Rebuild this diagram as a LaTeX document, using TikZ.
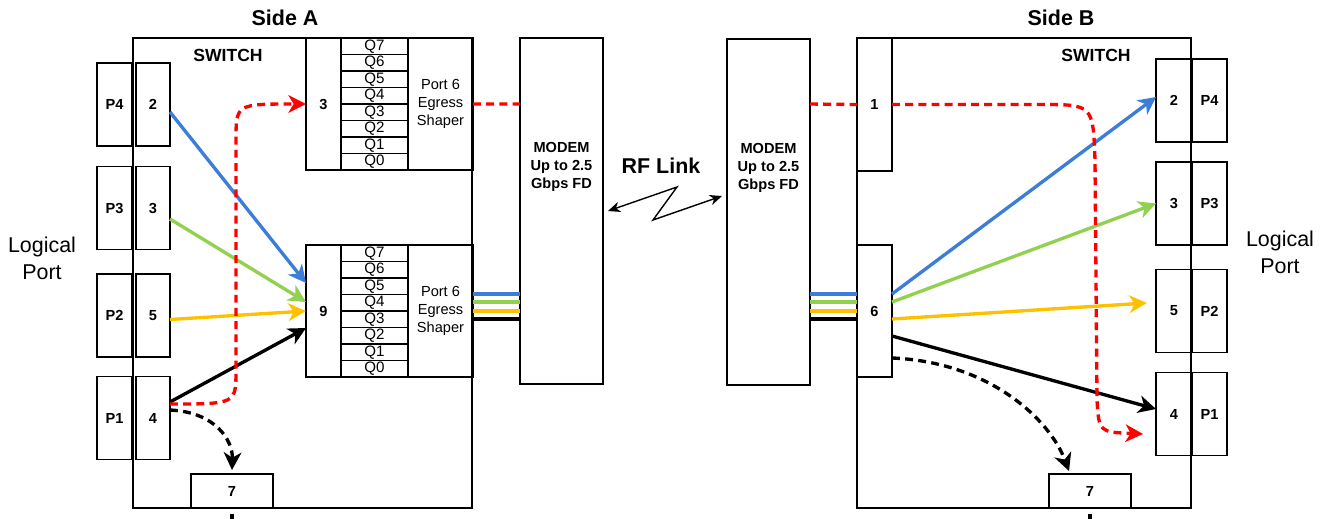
\documentclass[tikz,border=0pt]{standalone}
\usepackage{fontspec}
\setmainfont{Liberation Sans}
\usetikzlibrary{arrows.meta}
\definecolor{link-blue}{HTML}{3B7DD8}
\definecolor{link-green}{HTML}{92D050}
\definecolor{link-gold}{HTML}{FFC000}
\definecolor{link-red}{HTML}{FF0000}

\tikzset{
  box/.style={draw, line width=0.65pt, inner sep=0pt, outer sep=0pt,
              font=\fontsize{8.3}{10.2}\selectfont\bfseries},
  qrow/.style={box, font=\fontsize{8.6}{10.2}\selectfont,
               minimum width=1.34cm, minimum height=0.33cm},
  shaper/.style={box, align=center, font=\fontsize{8.3}{10.2}\selectfont},
  modemtxt/.style={align=center, font=\fontsize{8.3}{10.2}\selectfont\bfseries},
  swlabel/.style={font=\fontsize{10}{12}\selectfont\bfseries},
  title/.style={font=\fontsize{12.2}{14}\selectfont\bfseries},
  logical/.style={align=center, font=\fontsize{12.2}{15.3}\selectfont},
  flow/.style={line width=1.9pt, -{Stealth[length=10pt,width=10pt,inset=3pt]}},
  trunk/.style={line width=1.9pt},
  redflow/.style={flow, link-red, dash pattern=on 4.5pt off 3pt},
  dropflow/.style={flow, black, dash pattern=on 4.5pt off 3pt},
  rflink/.style={line width=0.8pt,
    {Stealth[length=7pt,width=6pt]}-{Stealth[length=7pt,width=6pt]}}
}

\begin{document}
\begin{tikzpicture}[x=0.02cm, y=-0.02cm]
  \clip (0,0) rectangle (1323,518);

  % switch enclosures and titles
  \node[box, minimum width=6.78cm, minimum height=9.4cm] (swA) at (302.5,273) {};
  \node[box, minimum width=6.68cm, minimum height=9.4cm] (swB) at (1024,273) {};
  \node[swlabel] (swAlbl) at (228,55) {SWITCH};
  \node[swlabel] (swBlbl) at (1096,55) {SWITCH};
  \node[title] (sideA) at (285,18) {Side A};
  \node[title] (sideB) at (1061,18) {Side B};
  \node[logical] (logA) at (42,258) {Logical\\Port};
  \node[logical] (logB) at (1280,252) {Logical\\Port};

  % logical ports, side A
  \foreach \p/\n/\y in {4/2/104.5, 3/3/208, 2/5/315.5, 1/4/418} {
    \node[box, minimum width=0.7cm, minimum height=1.66cm] (pA\p) at (114.5,\y) {P\p};
    \node[box, minimum width=0.68cm, minimum height=1.66cm] (nA\n) at (153,\y) {\n};
  }

  % logical ports, side B
  \foreach \p/\n/\y in {4/2/100.5, 3/3/203.5, 2/5/311, 1/4/414} {
    \node[box, minimum width=0.72cm, minimum height=1.66cm] (nB\n) at (1174,\y) {\n};
    \node[box, minimum width=0.7cm, minimum height=1.66cm] (pB\p) at (1209.5,\y) {P\p};
  }

  % queue blocks with egress shaper
  \foreach \b/\yc/\num in {A/104/3, B/311/9} {
    \node[box, minimum width=0.7cm, minimum height=2.64cm] (qn\b) at (323.5,\yc) {\num};
    \foreach \i in {0,...,7}
      \node[qrow] (q\b\i) at (374.5,{\yc-66+(7.5-\i)*16.5}) {Q\i};
    \node[shaper, minimum width=1.3cm, minimum height=2.64cm] (sh\b) at (440.5,\yc)
      {Port 6\\Egress\\Shaper};
  }

  % modems
  \node[box, minimum width=1.66cm, minimum height=6.92cm] (mA) at (561.5,211) {};
  \node[box, minimum width=1.66cm, minimum height=6.92cm] (mB) at (768.5,212) {};
  \node[modemtxt] (mAtxt) at (561.5,167) {MODEM\\Up to 2.5\\Gbps FD};
  \node[modemtxt] (mBtxt) at (768.5,168) {MODEM\\Up to 2.5\\Gbps FD};
  \node[title] (rf) at (661,166) {RF Link};

  % switch B uplink ports and port 7 boxes
  \node[box, minimum width=0.7cm, minimum height=2.66cm] (up1) at (874.5,104.5) {1};
  \node[box, minimum width=0.7cm, minimum height=2.64cm] (up6) at (874.5,311) {6};
  \node[box, minimum width=1.64cm, minimum height=0.68cm] (svA) at (232,491) {7};
  \node[box, minimum width=1.64cm, minimum height=0.68cm] (svB) at (1090,491) {7};

  % radio link
  \draw[rflink] ([xshift=0.1cm]mA.east) -- (677,187) -- (653,220)
    -- ([xshift=-0.1cm,yshift=0.32cm]mB.west);

  % trunks between shaper, modems and port 6
  \foreach \c/\s in {link-blue/0.34, link-green/0.18, link-gold/0, black/-0.16} {
    \draw[trunk, \c] ([yshift=\s cm]shB.east) -- ([yshift=\s cm]shB.east -| mA.west);
    \draw[trunk, \c] ([yshift=\s cm]mB.east |- up6.west) -- ([yshift=\s cm]up6.west);
  }
  \draw[trunk, link-red, dash pattern=on 4.5pt off 3pt]
    (shA.east) -- ([yshift=2.14cm]mA.west);
  \draw[trunk, link-red, dash pattern=on 4.5pt off 3pt]
    ([yshift=2.16cm]mB.east) -- (up1.west);

  % side A flows
  \draw[flow, link-blue] ([yshift=-0.15cm]nA2.east) -- ([yshift=0.56cm]qnB.west);
  \draw[flow, link-green] ([yshift=-0.22cm]nA3.east) -- ([yshift=0.18cm]qnB.west);
  \draw[flow, link-gold] ([yshift=-0.08cm]nA5.east) -- (qnB.west);
  \draw[flow, black] ([yshift=0.32cm]nA4.east) -- ([yshift=-0.34cm]qnB.west);
  \draw[redflow] ([yshift=0.28cm]nA4.east) .. controls (236,404) .. (236,370)
    -- (236,140) .. controls (236,104) .. (qnA.west);
  \draw[dropflow] ([yshift=0.16cm]nA4.east) .. controls (215,412) and (233,440)
    .. ([yshift=0.08cm]svA.north);
  \draw[line width=1.9pt, dash pattern=on 4.5pt off 3pt] ([yshift=-0.12cm]svA.south) -- ++(0,20);

  % side B flows
  \draw[flow, link-blue] ([yshift=0.34cm]up6.east) -- ([yshift=0.07cm]nB2.west);
  \draw[flow, link-green] ([yshift=0.18cm]up6.east) -- (nB3.west);
  \draw[flow, link-gold] ([yshift=-0.16cm]up6.east) -- ([xshift=-0.18cm,yshift=0.16cm]nB5.west);
  \draw[flow, black] ([yshift=-0.5cm]up6.east) -- ([yshift=0.1cm]nB4.west);
  \draw[redflow] (up1.east) -- (1040,104.5) .. controls (1093,104.5) .. (1095,160)
    -- (1097,400) .. controls (1099,432) .. ([xshift=-0.26cm,yshift=-0.4cm]nB4.west);
  \draw[dropflow] ([yshift=-0.94cm]up6.east) .. controls (990,362) and (1050,420)
    .. ([xshift=-0.42cm,yshift=0.06cm]svB.north);
  \draw[line width=1.9pt, dash pattern=on 4.5pt off 3pt] ([yshift=-0.12cm]svB.south) -- ++(0,20);
\end{tikzpicture}
\end{document}
